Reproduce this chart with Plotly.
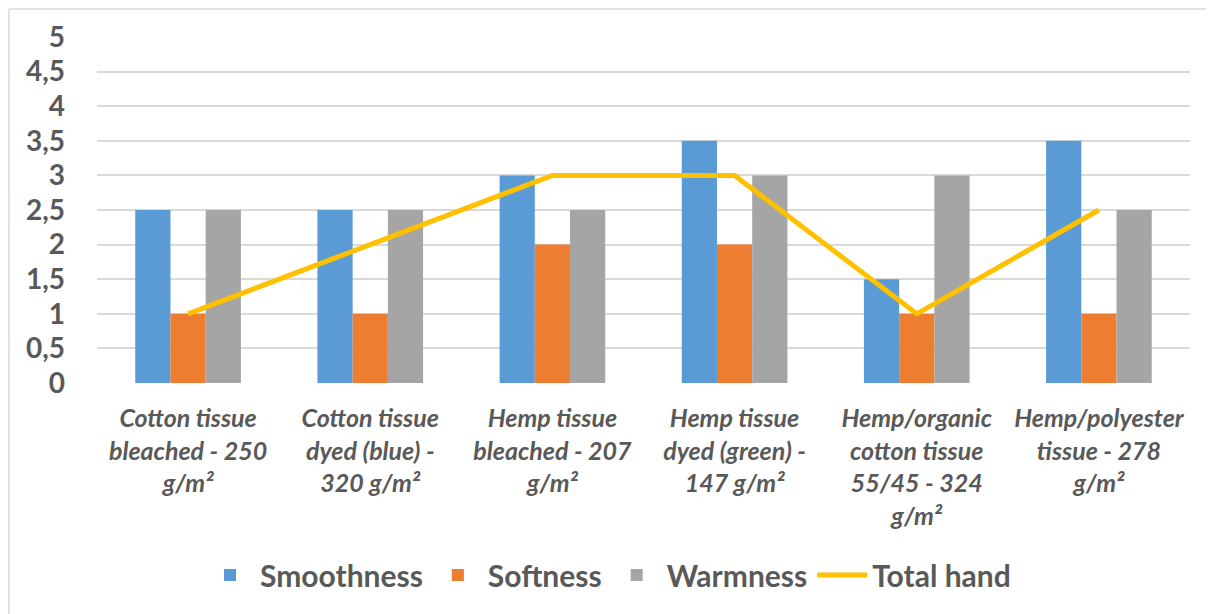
import plotly.graph_objects as go

categories = [
    "Cotton tissue<br>bleached - 250<br>g/m²",
    "Cotton tissue<br>dyed (blue) -<br>320 g/m²",
    "Hemp tissue<br>bleached - 207<br>g/m²",
    "Hemp tissue<br>dyed (green) -<br>147 g/m²",
    "Hemp/organic<br>cotton tissue<br>55/45 - 324<br>g/m²",
    "Hemp/polyester<br>tissue - 278<br>g/m²",
]
smoothness = [2.5, 2.5, 3, 3.5, 1.5, 3.5]
softness = [1, 1, 2, 2, 1, 1]
warmness = [2.5, 2.5, 2.5, 3, 3, 2.5]
total_hand = [1, 2, 3, 3, 1, 2.5]

FONT = "Lato"
TXT = "#595959"

fig = go.Figure()
fig.add_bar(x=categories, y=smoothness, name="Smoothness", marker_color="#5B9BD5", marker_line_width=0)
fig.add_bar(x=categories, y=softness, name="Softness", marker_color="#ED7D31", marker_line_width=0)
fig.add_bar(x=categories, y=warmness, name="Warmness", marker_color="#A5A5A5", marker_line_width=0)
fig.add_scatter(x=categories, y=total_hand, name="Total hand", mode="lines",
                line=dict(color="#FFC000", width=5))

# page body adds an 8px margin, so the figure is sized to fit the window
W, H = 1206, 606
L, R, T, B = 89, 24, 29, 231
pw = W - L - R
ph = H - T - B

def px_x(x):
    return (x - L) / pw

def px_y(y):
    return (H - B - y) / ph

fig.update_layout(
    width=W, height=H,
    margin=dict(l=L, r=R, t=T, b=B, autoexpand=False),
    paper_bgcolor="white", plot_bgcolor="white",
    barmode="group", bargap=0.42, bargroupgap=0,
    separators=", ",
    font=dict(family=FONT, color=TXT),
    showlegend=True,
    legend=dict(orientation="h", x=px_x(600), xanchor="center", y=px_y(567), yanchor="middle",
                font=dict(size=30, family=FONT, color=TXT, weight="bold"),
                itemwidth=50, traceorder="normal", tracegroupgap=0),
    xaxis=dict(showgrid=False, showline=False, ticks="", zeroline=False,
               tickfont=dict(size=25, family=FONT, color=TXT, weight="bold", style="italic"),
               ticklabelstandoff=18),
    yaxis=dict(range=[0, 5], dtick=0.5, tick0=0, showgrid=True, gridcolor="#D9D9D9", gridwidth=1.5,
               zeroline=False, showline=False, ticks="",
               tickfont=dict(size=28, family=FONT, color=TXT, weight="bold"),
               ticklabelstandoff=31),
    shapes=[
        dict(type="line", xref="paper", yref="paper", x0=px_x(1), x1=px_x(W), y0=px_y(1), y1=px_y(1),
             line=dict(color="#D9D9D9", width=1.5), layer="below"),
        dict(type="line", xref="paper", yref="paper", x0=px_x(1), x1=px_x(1), y0=px_y(1), y1=px_y(H),
             line=dict(color="#D9D9D9", width=1.5), layer="below"),
    ],
)

fig.write_html("out.html")
